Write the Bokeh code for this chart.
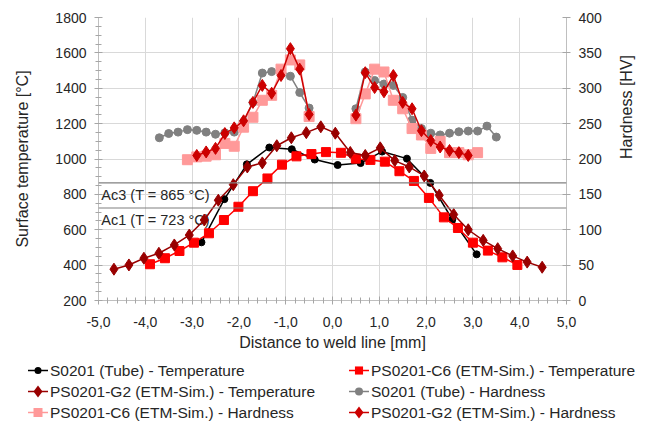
import math
import numpy as np
from bokeh.plotting import figure
from bokeh.layouts import column
from bokeh.models import (LinearAxis, Range1d, FixedTicker, CustomJSTickFormatter, Span, Div)
from bokeh.core.properties import value
from bokeh.embed import file_html
from bokeh.resources import INLINE

# ---------------- data ----------------
# Temperature series [°C]
s0201_temp_x = [-2.80, -2.31, -1.83, -1.35, -0.87, -0.38, 0.11, 0.60, 1.06, 1.59, 2.09, 2.56, 3.08]
s0201_temp_y = [529, 773, 970, 1065, 1055, 997, 966, 977, 1042, 1002, 865, 658, 461]

c6_temp_x = [-3.90, -3.58, -3.27, -2.96, -2.64, -2.32, -2.01, -1.70, -1.39, -1.08, -0.77, -0.45, -0.14,
             0.18, 0.50, 0.81, 1.12, 1.43, 1.74, 2.06, 2.38, 2.68, 3.00, 3.32, 3.63, 3.95]
c6_temp_y = [405, 439, 480, 527, 580, 655, 730, 818, 890, 968, 1015, 1028, 1039,
             1035, 1002, 995, 985, 931, 876, 780, 670, 610, 527, 482, 444, 401]

g2_temp_x = [-4.67, -4.35, -4.03, -3.71, -3.38, -3.06, -2.74, -2.44, -2.12, -1.82, -1.50, -1.19, -0.88,
             -0.56, -0.25, 0.06, 0.38, 0.70, 1.02, 1.33, 1.64, 1.96, 2.28, 2.59, 2.90, 3.22, 3.53,
             3.85, 4.16, 4.48]
g2_temp_y = [377, 401, 439, 467, 514, 570, 655, 767, 855, 955, 978, 1075, 1120,
             1149, 1182, 1146, 1037, 1020, 1063, 991, 955, 904, 795, 686, 600, 540, 493,
             452, 417, 388]

# Hardness series [HV] (left and right of the weld line)
s0201_hv_left_x = [-3.7, -3.5, -3.3, -3.1, -2.9, -2.7, -2.5, -2.3, -2.1, -1.9, -1.7, -1.5, -1.3, -1.1, -0.9, -0.7, -0.5]
s0201_hv_left_y = [230, 236, 238, 241.5, 240.5, 238, 235, 237, 238, 252, 280, 321.5, 323.5, 326, 317, 294, 272]
s0201_hv_right_x = [0.5, 0.7, 0.9, 1.1, 1.3, 1.5, 1.7, 1.9, 2.1, 2.3, 2.5, 2.7, 2.9, 3.1, 3.3, 3.5]
s0201_hv_right_y = [271, 323, 311, 306, 304, 287, 255, 243, 236.5, 234, 236.5, 238.5, 239.5, 239.5, 246.5, 231]

c6_hv_left_x = [-3.1, -2.9, -2.7, -2.5, -2.3, -2.1, -1.9, -1.7, -1.5, -1.3, -1.1, -0.9, -0.7, -0.5]
c6_hv_left_y = [199, 203, 204, 206, 222, 218, 245, 259, 283, 290, 327, 340, 333, 260]
c6_hv_right_x = [0.5, 0.7, 0.9, 1.1, 1.3, 1.5, 1.7, 1.9, 2.1, 2.3, 2.5, 2.7, 2.9, 3.1]
c6_hv_right_y = [257, 292, 327, 323, 283, 271, 243, 234, 215, 225, 209, 209, 206, 209]

g2_hv_left_x = [-2.9, -2.7, -2.5, -2.3, -2.1, -1.9, -1.7, -1.5, -1.3, -1.1, -0.9, -0.7, -0.5]
g2_hv_left_y = [205, 210, 215, 236, 244, 254, 280, 304, 293, 318, 356, 327, 263]
g2_hv_right_x = [0.5, 0.7, 0.9, 1.1, 1.3, 1.5, 1.7, 1.9, 2.1, 2.3, 2.5, 2.7, 2.9]
g2_hv_right_y = [262, 322, 301, 295, 318, 280, 271, 240, 226, 217, 212, 209, 205]

ac3_temp = 865
ac1_temp = 723

x_ticks = [-5, -4, -3, -2, -1, 0, 1, 2, 3, 4, 5]
y_ticks = [200, 400, 600, 800, 1000, 1200, 1400, 1600, 1800]
hv_ticks = [0, 50, 100, 150, 200, 250, 300, 350, 400]

labels = ["S0201 (Tube) - Temperature",
          "PS0201-C6 (ETM-Sim.) - Temperature",
          "PS0201-G2 (ETM-Sim.) - Temperature",
          "S0201 (Tube) - Hardness",
          "PS0201-C6 (ETM-Sim.) - Hardness",
          "PS0201-G2 (ETM-Sim.) - Hardness"]

# (color, marker, marker size) per series, same order as labels
styles = [("#000000", "circle", 7),
          ("#ff0000", "square", 9),
          ("#990000", "diamond", 12),
          ("#808080", "circle", 8),
          ("#ff9999", "square", 10),
          ("#cc0000", "diamond", 12)]

# ---------------- figure ----------------
FONT = "Liberation Sans"
TXT = "#262626"

p = figure(width=646, height=353, output_backend="svg", toolbar_location=None,
           x_range=Range1d(-5, 5), y_range=Range1d(200, 1800),
           min_border_left=98, min_border_right=80, min_border_top=17, min_border_bottom=52)
p.extra_y_ranges = {"hv": Range1d(0, 400)}
p.outline_line_color = None
p.background_fill_color = "white"

xt = FixedTicker(ticks=x_ticks, minor_ticks=list(np.round(np.arange(-5, 5.001, 0.2), 2)))
yt = FixedTicker(ticks=y_ticks, minor_ticks=list(range(200, 1801, 50)))

p.xaxis.ticker = xt
p.yaxis.ticker = yt
p.xgrid.ticker = xt
p.ygrid.ticker = yt
for g in (p.xgrid, p.ygrid):
    g.grid_line_color = "#d9d9d9"
    g.grid_line_width = 1

p.xaxis.formatter = CustomJSTickFormatter(code="return tick.toFixed(1).replace('.', ',');")

right = LinearAxis(y_range_name="hv", ticker=FixedTicker(ticks=hv_ticks, minor_ticks=[]))
p.add_layout(right, "right")

p.xaxis.axis_label = "Distance to weld line [mm]"
p.yaxis[0].axis_label = "Surface temperature [°C]"
right.axis_label = "Hardness [HV]"

for ax in p.axis:
    ax.axis_line_color = "#bfbfbf"
    ax.major_tick_line_color = "#a6a6a6"
    ax.minor_tick_line_color = "#a6a6a6"
    ax.major_tick_in = 4
    ax.major_tick_out = 4
    ax.minor_tick_in = 3
    ax.minor_tick_out = 3
    ax.major_label_text_font = FONT
    ax.major_label_text_font_size = "14px"
    ax.major_label_text_color = TXT
    ax.axis_label_text_font = FONT
    ax.axis_label_text_font_size = "16px"
    ax.axis_label_text_font_style = "normal"
    ax.axis_label_text_color = TXT
    ax.major_label_standoff = 8

p.xaxis.major_label_standoff = 12
p.xaxis.axis_label_standoff = 4
p.yaxis[0].axis_label_standoff = 21
right.axis_label_standoff = 22
right.axis_label_orientation = math.pi / 2

# threshold lines
for t in (ac3_temp, ac1_temp):
    p.add_layout(Span(location=t, dimension="width", line_color="#808080", line_width=1.2))

p.text(x=[-4.94, -4.94], y=[ac3_temp, ac1_temp],
       text=[f"Ac3 (T = {ac3_temp} °C)", f"Ac1 (T = {ac1_temp} °C)"],
       text_font=value(FONT), text_font_size="14.5px", text_color=TXT,
       text_baseline="top", text_align="left", y_offset=4)

nan = [float("nan")]
series_data = [
    (s0201_temp_x, s0201_temp_y, "default"),
    (c6_temp_x, c6_temp_y, "default"),
    (g2_temp_x, g2_temp_y, "default"),
    (s0201_hv_left_x + nan + s0201_hv_right_x, s0201_hv_left_y + nan + s0201_hv_right_y, "hv"),
    (c6_hv_left_x + nan + c6_hv_right_x, c6_hv_left_y + nan + c6_hv_right_y, "hv"),
    (g2_hv_left_x + nan + g2_hv_right_x, g2_hv_left_y + nan + g2_hv_right_y, "hv"),
]

for (xs, ys, rng), (color, marker, size) in zip(series_data, styles):
    p.line(xs, ys, line_color=color, line_width=1.5, y_range_name=rng)
    p.scatter(xs, ys, marker=marker, size=size, fill_color=color, line_color=color,
              y_range_name=rng)

# ---------------- legend (two columns, three rows, below the chart) ----------------
def icon(color, marker, size):
    w, h = 20, 21
    cx, cy = w / 2, h / 2
    parts = [f'<line x1="0" y1="{cy}" x2="{w}" y2="{cy}" stroke="{color}" stroke-width="1.5"/>']
    if marker == "circle":
        parts.append(f'<circle cx="{cx}" cy="{cy}" r="{size / 2}" fill="{color}"/>')
    elif marker == "square":
        s = size * 0.9
        parts.append(f'<rect x="{cx - s / 2}" y="{cy - s / 2}" width="{s}" height="{s}" fill="{color}"/>')
    else:
        r = size / 2
        parts.append(f'<polygon points="{cx},{cy - r} {cx + r * 0.75},{cy} {cx},{cy + r} {cx - r * 0.75},{cy}" fill="{color}"/>')
    return f'<svg width="{w}" height="{h}" style="display:block;flex:none">' + "".join(parts) + "</svg>"

col_left = [28, 349]
row_top = [7, 28, 49]
cells = []
for i, (label, (color, marker, size)) in enumerate(zip(labels, styles)):
    r, c = divmod(i, 2)
    cells.append(
        f'<div style="position:absolute;left:{col_left[c]}px;top:{row_top[r]}px;height:21px;'
        f'display:flex;align-items:center;white-space:nowrap">'
        f'{icon(color, marker, size)}<span style="margin-left:2px">{label}</span></div>')

legend_html = (f'<div style="position:relative;width:646px;height:70px;font-family:\'{FONT}\';'
               f'font-size:15.5px;color:{TXT};line-height:21px">' + "".join(cells) + "</div>")
legend_div = Div(text=legend_html, width=646, height=70, margin=0)

layout = column(p, legend_div, spacing=0)
open("out.html", "w").write(file_html(layout, INLINE))
